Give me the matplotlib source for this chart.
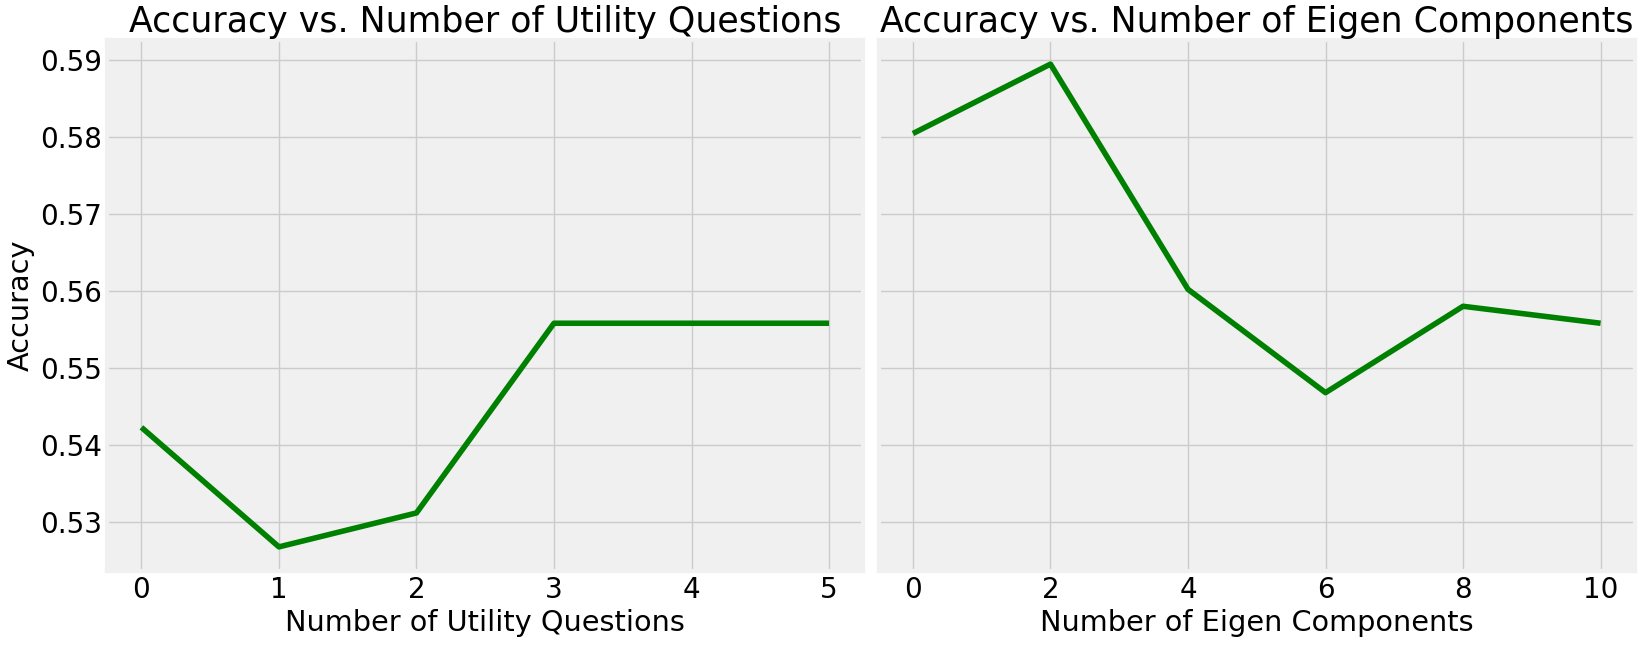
import matplotlib
matplotlib.use("Agg")
import matplotlib.pyplot as plt

plt.style.use("fivethirtyeight")

utility_questions = [0, 1, 2, 3, 4, 5]
utility_accuracy = [0.5423, 0.5268, 0.5312, 0.5558, 0.5558, 0.5558]

eigen_components = [0, 2, 4, 6, 8, 10]
eigen_accuracy = [0.5804, 0.5894, 0.5602, 0.5468, 0.5580, 0.5558]

fig, axes = plt.subplots(1, 2, figsize=(16.44, 6.45), dpi=100, sharey=True)
fig.patch.set_facecolor("white")
fig.subplots_adjust(left=0.0651, right=0.9945, bottom=0.1147, top=0.938, wspace=0.02)

ax1, ax2 = axes
ax1.plot(utility_questions, utility_accuracy, color="green", linewidth=4)
ax1.set_title("Accuracy vs. Number of Utility Questions", fontsize=25)
ax1.set_xlabel("Number of Utility Questions", fontsize=20.7)
ax1.set_ylabel("Accuracy", fontsize=20.7)

ax2.plot(eigen_components, eigen_accuracy, color="green", linewidth=4)
ax2.set_title("Accuracy vs. Number of Eigen Components", fontsize=25)
ax2.set_xlabel("Number of Eigen Components", fontsize=20.7)

for ax in axes:
    ax.tick_params(labelsize=20)
    ax.set_facecolor("#f0f0f0")

fig.savefig("out.png", dpi=100, facecolor="white")
